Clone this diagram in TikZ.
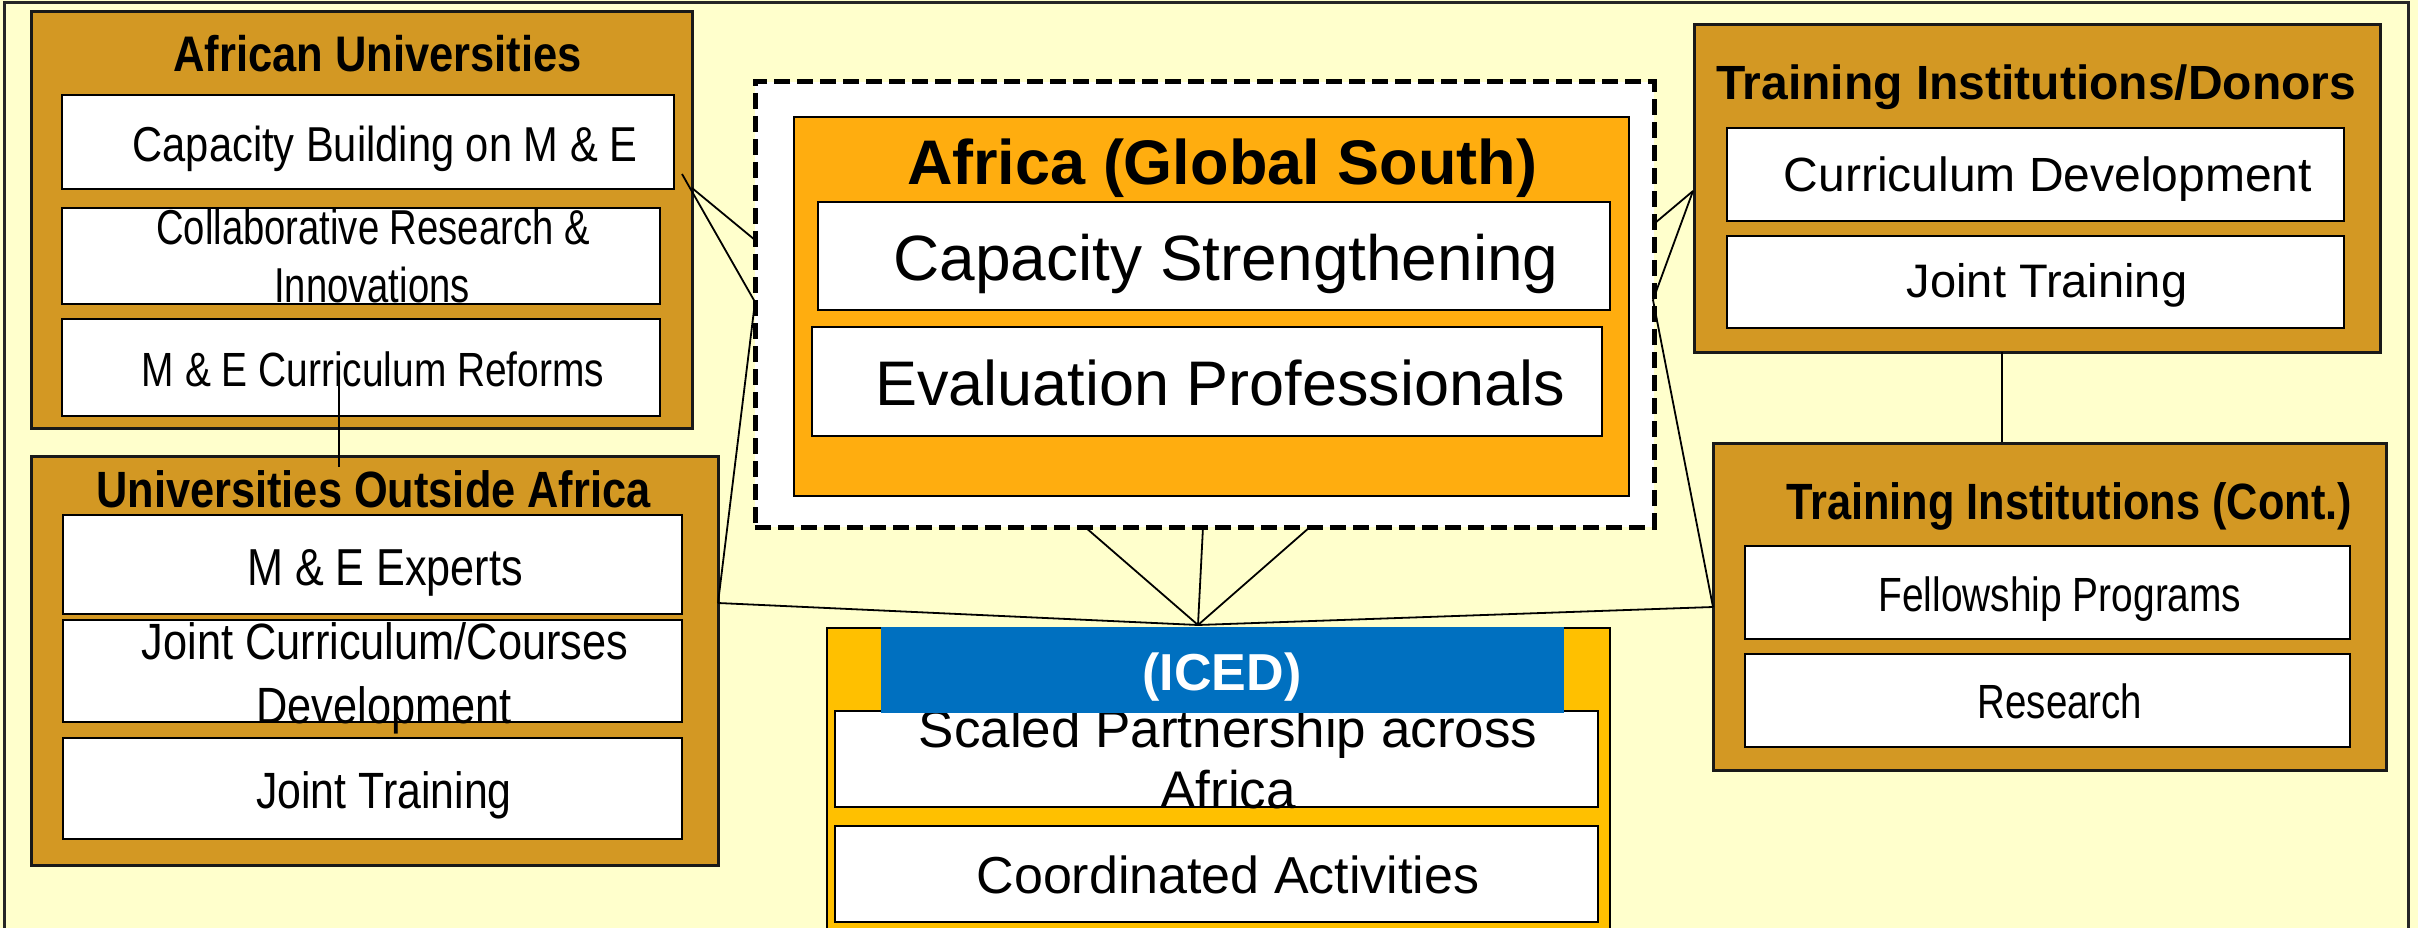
\documentclass[tikz,border=0pt]{standalone}
\usepackage{fontspec}
\setmainfont{Liberation Sans}
\definecolor{bgyellow}{HTML}{FFFFCC}
\definecolor{panelgold}{RGB}{211,152,35}
\definecolor{africaorange}{HTML}{FFAD0F}
\definecolor{icedgold}{HTML}{FFC000}
\definecolor{icedblue}{HTML}{0070C0}
\newcommand\fsz[1]{\fontsize{#1}{#1}\selectfont}
\newcommand\squeeze[2]{\scalebox{#1}[1]{#2}}
\begin{document}
\begin{tikzpicture}[x=1pt,y=-1pt,
  panel/.style={draw=black!90, line width=3pt, fill=panelgold, inner sep=0pt, outer sep=0pt, anchor=north west},
  subbox/.style={draw=black, line width=2.5pt, fill=white, inner sep=0pt, outer sep=0pt, anchor=north west},
  txt/.style={anchor=base, inner sep=0pt, outer sep=0pt},
  wire/.style={draw=black, line width=1.8pt},
]
\useasboundingbox (0,0) rectangle (2418,928);
\clip (0,0) rectangle (2418,928);
\fill[bgyellow] (0,0) rectangle (2418,928);
\draw[line width=3pt, black!85] (4,3) rectangle (2408,960);

% ---------- African Universities ----------
\node[panel, minimum width=661pt, minimum height=416pt] (au) at (31,12) {};
\node[subbox, minimum width=612pt, minimum height=94pt] (auCap) at (62,95) {};
\node[subbox, minimum width=598pt, minimum height=96pt] (auCol) at (62,208) {};
\node[subbox, minimum width=598pt, minimum height=97pt] (auRef) at (62,319) {};
\node[txt, font=\fsz{50}\bfseries] (auTitle) at (377.6,72) {\squeeze{0.87}{African Universities}};
\node[txt, font=\fsz{49}] (auCapT) at (385,162) {\squeeze{0.85}{Capacity Building on M \& E}};
\node[txt, font=\fsz{49}] (auColT1) at (373,245) {\squeeze{0.78}{Collaborative Research \&}};
\node[txt, font=\fsz{49}] (auColT2) at (372,302) {\squeeze{0.78}{Innovations}};
\node[txt, font=\fsz{48}] (auRefT) at (373,386) {\squeeze{0.81}{M \& E Curriculum Reforms}};

% ---------- Universities Outside Africa ----------
\node[panel, minimum width=687pt, minimum height=409pt] (uoa) at (31,456) {};
\node[subbox, minimum width=619pt, minimum height=99pt] (uoaExp) at (63,515) {};
\node[subbox, minimum width=619pt, minimum height=102pt] (uoaJcc) at (63,620) {};
\node[subbox, minimum width=619pt, minimum height=101pt] (uoaJt) at (63,738) {};
\node[txt, font=\fsz{51}\bfseries] (uoaTitle) at (373.5,507) {\squeeze{0.85}{Universities Outside Africa}};
\node[txt, font=\fsz{52}] (uoaExpT) at (385,585) {\squeeze{0.83}{M \& E Experts}};
\node[txt, font=\fsz{51}] (uoaJccT1) at (385,659) {\squeeze{0.85}{Joint Curriculum/Courses}};
\node[txt, font=\fsz{51}] (uoaJccT2) at (384,723) {\squeeze{0.85}{Development}};
\node[txt, font=\fsz{51}] (uoaJtT) at (384,808) {\squeeze{0.84}{Joint Training}};

% ---------- Africa (Global South) ----------
\node[draw=black, line width=5pt, dash pattern=on 16pt off 7pt, fill=white,
      inner sep=0pt, outer sep=0pt, anchor=north west,
      minimum width=899pt, minimum height=445pt] (south) at (755,82) {};
\node[draw=black, line width=2pt, fill=africaorange, inner sep=0pt, outer sep=0pt,
      anchor=north west, minimum width=835pt, minimum height=379pt] (africa) at (794,117) {};
\node[subbox, line width=2pt, minimum width=792pt, minimum height=108pt] (capStr) at (818,202) {};
\node[subbox, line width=2pt, minimum width=790pt, minimum height=109pt] (evalPro) at (812,327) {};
\node[txt, font=\fsz{63}\bfseries] (africaTitle) at (1222,185) {Africa (Global South)};
\node[txt, font=\fsz{64}] (capStrT) at (1226,280) {Capacity Strengthening};
\node[txt, font=\fsz{63}] (evalProT) at (1220,405) {Evaluation Professionals};

% ---------- ICED ----------
\node[draw=black, line width=2pt, fill=icedgold, inner sep=0pt, outer sep=0pt,
      anchor=north west, minimum width=783pt, minimum height=400pt] (iced) at (827,628) {};
\node[subbox, minimum width=763pt, minimum height=96pt] (scaled) at (835,711) {};
\node[subbox, minimum width=763pt, minimum height=96pt] (coord) at (835,826) {};
\node[txt, font=\fsz{53}] (scaledT1) at (1228,747) {Scaled Partnership across};
\node[txt, font=\fsz{53}] (scaledT2) at (1228,808) {Africa};
\node[txt, font=\fsz{52}] (coordT) at (1228,893) {Coordinated Activities};
\node[fill=icedblue, inner sep=0pt, outer sep=0pt, anchor=north west,
      minimum width=683pt, minimum height=86pt] (banner) at (881,627) {};
\node[txt, font=\fsz{52}\bfseries, text=white] (bannerT) at (1222,690) {(ICED)};

% ---------- Training Institutions/Donors ----------
\node[panel, minimum width=686pt, minimum height=327pt] (tid) at (1694,25) {};
\node[subbox, minimum width=617pt, minimum height=93pt] (tidCur) at (1727,128) {};
\node[subbox, minimum width=617pt, minimum height=92pt] (tidJt) at (1727,236) {};
\node[txt, font=\fsz{48}\bfseries] (tidTitle) at (2036,100) {Training Institutions/Donors};
\node[txt, font=\fsz{48}] (tidCurT) at (2048,192) {Curriculum Development};
\node[txt, font=\fsz{47}] (tidJtT) at (2047,298) {Joint Training};

% ---------- Training Institutions (Cont.) ----------
\node[panel, minimum width=673pt, minimum height=327pt] (tic) at (1713,443) {};
\node[subbox, minimum width=605pt, minimum height=93pt] (ticFel) at (1745,546) {};
\node[subbox, minimum width=605pt, minimum height=93pt] (ticRes) at (1745,654) {};
\node[txt, font=\fsz{51}\bfseries] (ticTitle) at (2069,519) {\squeeze{0.85}{Training Institutions (Cont.)}};
\node[txt, font=\fsz{48}] (ticFelT) at (2060,611) {\squeeze{0.81}{Fellowship Programs}};
\node[txt, font=\fsz{48}] (ticResT) at (2060,718) {\squeeze{0.80}{Research}};

% ---------- connector end points ----------
\coordinate (auOutA) at (682,174);
\coordinate (auOutB) at (692,188);
\coordinate (southL1) at (755,240);
\coordinate (southL2) at (755,302);
\coordinate (uoaOut) at (718,603);
\coordinate (tidOut) at (1693,191);
\coordinate (southR1) at (1655,223);
\coordinate (southR2) at (1653,300);
\coordinate (ticOut) at (1713,607);
\coordinate (southB1) at (1085,527);
\coordinate (southB2) at (1203,527);
\coordinate (southB3) at (1310,527);
\coordinate (icedTop) at (1198,625);
\coordinate (auDrop) at (339,377);
\coordinate (uoaIn) at (339,467);
\coordinate (tidDrop) at (2002,352);
\coordinate (ticIn) at (2002,442);

% ---------- connectors ----------
\draw[wire] (auOutA) -- (southL2);
\draw[wire] (auOutB) -- (southL1);
\draw[wire] (uoaOut) -- (southL2);
\draw[wire] (tidOut) -- (southR1);
\draw[wire] (tidOut) -- (southR2);
\draw[wire] (ticOut) -- (southR2);
\draw[wire] (uoaOut) -- (icedTop);
\draw[wire] (ticOut) -- (icedTop);
\draw[wire] (southB1) -- (icedTop);
\draw[wire] (southB2) -- (icedTop);
\draw[wire] (southB3) -- (icedTop);
\draw[wire] (auDrop) -- (uoaIn);
\draw[wire] (tidDrop) -- (ticIn);
\end{tikzpicture}
\end{document}
